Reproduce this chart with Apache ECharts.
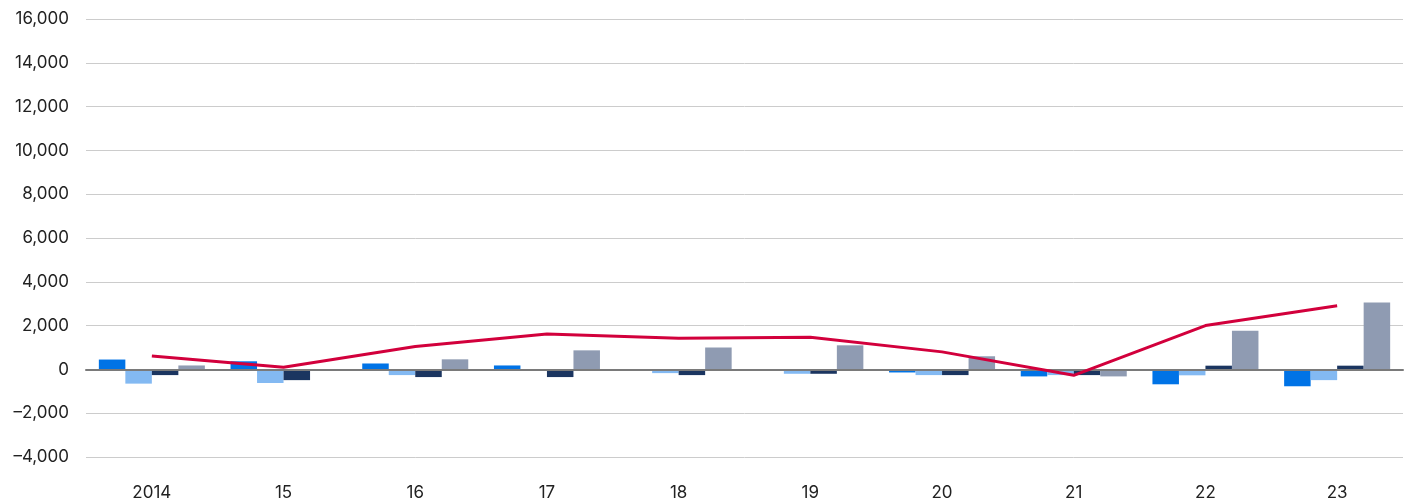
<!DOCTYPE html>
<html>
<head>
<meta charset="utf-8">
<script src="https://cdn.jsdelivr.net/npm/echarts@6/dist/echarts.min.js"></script>
<style>
  html, body { margin: 0; padding: 0; background: #fff; }
  #chart { width: 1413px; height: 502px; }
</style>
</head>
<body>
<div id="chart"></div>
<script>
// Year labels along the category axis
const categories = ['2014', '15', '16', '17', '18', '19', '20', '21', '22', '23'];

// Component bars (four per year)
const seriesA = [450, 370, 270, 180, -70, -50, -140, -320, -680, -770];
const seriesB = [-650, -620, -260, 0, -170, -200, -260, -260, -270, -490];
const seriesC = [-260, -490, -350, -350, -260, -200, -260, -260, 170, 170];
const seriesD = [180, 0, 460, 870, 1000, 1100, 600, -320, 1770, 3050];

// Total line
const totalLine = [610, 100, 1050, 1620, 1420, 1470, 800, -270, 2000, 2910];

// Value axis tick settings
const yMin = -4000;
const yMax = 16000;
const yStep = 2000;

const font = 'Inter, Liberation Sans, Arial, sans-serif';

const chart = echarts.init(document.getElementById('chart'), null, { renderer: 'canvas' });

function bar(name, data, color) {
  return {
    name: name,
    type: 'bar',
    data: data,
    barGap: '0%',
    barCategoryGap: '19.5%',
    itemStyle: { color: color },
    z: 2
  };
}

chart.setOption({
  animation: false,
  grid: { left: 86, right: 10, top: 19, bottom: 45, containLabel: false },
  xAxis: {
    type: 'category',
    data: categories,
    boundaryGap: true,
    axisLine: { show: true, onZero: true, lineStyle: { color: '#7a7a7a', width: 2 } },
    axisTick: { show: false },
    axisLabel: { color: '#222', fontSize: 17, fontFamily: font, margin: 27 },
    z: 5
  },
  yAxis: {
    type: 'value',
    min: yMin,
    max: yMax,
    interval: yStep,
    axisLine: { show: false },
    axisTick: { show: false },
    splitLine: { lineStyle: { color: '#cccccc', width: 1 } },
    axisLabel: {
      color: '#222',
      fontSize: 17,
      fontFamily: font,
      margin: 17,
      formatter: function (v) {
        const s = Math.abs(v).toLocaleString('en-US');
        return v < 0 ? '\u2013' + s : s;
      }
    }
  },
  series: [
    bar('A', seriesA, '#0073e6'),
    bar('B', seriesB, '#83b9f2'),
    bar('C', seriesC, '#1b3560'),
    bar('D', seriesD, '#8f9bb2'),
    {
      name: 'Total',
      type: 'line',
      data: totalLine,
      symbol: 'none',
      lineStyle: { color: '#d2003c', width: 3 },
      z: 6
    }
  ]
});
</script>
</body>
</html>
